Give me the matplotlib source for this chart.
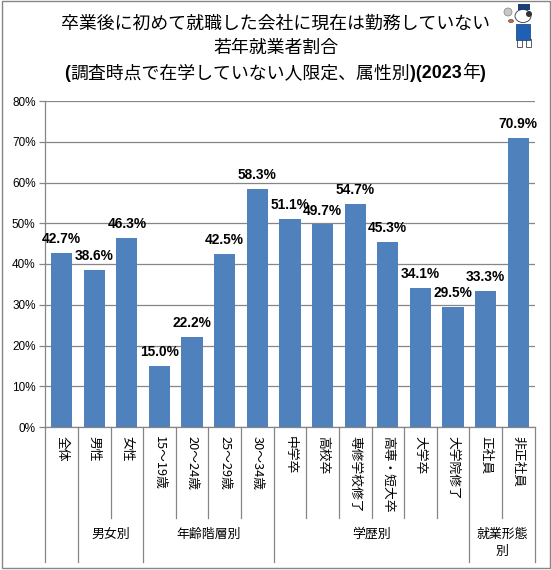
import matplotlib
matplotlib.use("Agg")
import matplotlib.pyplot as plt
from matplotlib.patches import Rectangle, Ellipse
from matplotlib.offsetbox import TextArea, HPacker, AnnotationBbox
from matplotlib.transforms import blended_transform_factory

jp = ['Noto Sans CJK JP', 'DejaVu Sans']
latin = ['Liberation Sans', 'Noto Sans CJK JP']
plt.rcParams['font.family'] = jp

labels = ["全体", "男性", "女性", "15～19歳", "20～24歳", "25～29歳", "30～34歳",
          "中学卒", "高校卒", "専修学校修了", "高専・短大卒", "大学卒", "大学院修了",
          "正社員", "非正社員"]
values = [42.7, 38.6, 46.3, 15.0, 22.2, 42.5, 58.3, 51.1, 49.7, 54.7, 45.3, 34.1, 29.5, 33.3, 70.9]
groups = ["男女別", "年齢階層別", "学歴別", "就業形態\n別"]
group_spans = [(1, 3), (3, 7), (7, 13), (13, 15)]
yticks = [0, 10, 20, 30, 40, 50, 60, 70, 80]

W, H = 551, 570
fig = plt.figure(figsize=(W / 100, H / 100), dpi=100)
ax = fig.add_axes([45.3 / W, 1 - 427 / H, (534.6 - 45.3) / W, (427 - 101) / H])

line_col = "#868686"

x = list(range(len(values)))
ax.bar(x, values, width=0.65, color="#4f81bd", zorder=3)
ax.set_xlim(-0.5, len(values) - 0.5)
ax.set_ylim(0, 80)
ax.set_yticks(yticks)
ax.set_yticklabels([f"{v}%" for v in yticks], fontsize=8.5, family=latin)
ax.grid(axis="y", color=line_col, linewidth=0.9, zorder=0)
ax.set_axisbelow(True)
ax.tick_params(axis="y", length=4, color=line_col, width=0.9, pad=3)
ax.set_xticks([])
for s in ["top", "right"]:
    ax.spines[s].set_visible(False)
for s in ["left", "bottom"]:
    ax.spines[s].set_color(line_col)
    ax.spines[s].set_linewidth(0.9)

# value labels
for i, v in enumerate(values):
    ax.annotate(f"{v:.1f}%", (i, v), xytext=(0, 5), textcoords="offset points",
                ha="center", va="bottom", fontsize=9.9, fontweight="bold",
                family=latin, zorder=5)

# category labels, rotated like the excel axis
tr = blended_transform_factory(ax.transData, ax.transAxes)
px = 1 / (427 - 101)
for i, lab in enumerate(labels):
    ax.text(i, -9 * px, lab, transform=tr, rotation=-90, ha="center", va="top",
            fontsize=9.2, clip_on=False)

# separators of the two level axis
short_y = -91 * px
long_y = -135 * px
long_at = [0, 1, 3, 7, 13, 15]
for i in range(len(values) + 1):
    y_end = long_y if i in long_at else short_y
    ax.plot([i - 0.5, i - 0.5], [0, y_end], transform=tr, color=line_col,
            linewidth=0.9, clip_on=False)

for name, (a, b) in zip(groups, group_spans):
    ypos = -107 * px if "\n" not in name else -116 * px
    ax.text((a + b - 1) / 2, ypos, name, transform=tr, ha="center", va="center",
            fontsize=9.3, clip_on=False, linespacing=1.35)

# title
fig.text(276 / W, 1 - 24 / H, "卒業後に初めて就職した会社に現在は勤務していない",
         ha="center", va="center", fontsize=12.9)
fig.text(276 / W, 1 - 48 / H, "若年就業者割合", ha="center", va="center", fontsize=12.9)

# third line: only the latin part is bold in the original
parts = [("(", True), ("調査時点で在学していない人限定、属性別", False), (")(2023", True),
         ("年", False), (")", True)]
areas = []
for txt, is_bold in parts:
    props = dict(fontsize=12.9, color="black")
    if is_bold:
        props.update(fontweight="bold", family=latin)
    areas.append(TextArea(txt, textprops=props))
pack = HPacker(children=areas, align="baseline", pad=0, sep=0)
fig.add_artist(AnnotationBbox(pack, (275 / W, 1 - 73 / H), xycoords="figure fraction",
                              frameon=False, box_alignment=(0.5, 0.5), pad=0))


# mascot, rough version
def px_patch(cls, cx, cy, w, h, **kw):
    if cls is Ellipse:
        p = Ellipse((cx / W, 1 - cy / H), w / W, h / H, transform=fig.transFigure, **kw)
    else:
        p = Rectangle(((cx - w / 2) / W, 1 - (cy + h / 2) / H), w / W, h / H,
                      transform=fig.transFigure, **kw)
    fig.add_artist(p)


px_patch(Ellipse, 508, 12, 8, 8, facecolor="#c8c8c8", edgecolor="#808080", linewidth=0.5)
px_patch(Rectangle, 519, 43, 5, 8, facecolor="white", edgecolor="#444444", linewidth=0.6)
px_patch(Rectangle, 528, 43, 5, 8, facecolor="white", edgecolor="#444444", linewidth=0.6)
px_patch(Rectangle, 523, 32, 14, 16, facecolor="#1f5fb4", edgecolor="#123a70", linewidth=0.5)
px_patch(Ellipse, 523, 16, 16, 13, facecolor="white", edgecolor="#333333", linewidth=0.6)
px_patch(Ellipse, 529, 14, 6, 6, facecolor="#333333", edgecolor="none")
px_patch(Rectangle, 524, 7, 12, 5, facecolor="#1b3f77", edgecolor="none")
px_patch(Ellipse, 511, 21, 5, 3, facecolor="#c0703a", edgecolor="#333333", linewidth=0.4)

# outer frame
fig.add_artist(Rectangle((1.5 / W, 1 - 568 / H), 548 / W, 567 / H, transform=fig.transFigure,
                         fill=False, edgecolor=line_col, linewidth=1))

fig.savefig("out.png", dpi=100)
